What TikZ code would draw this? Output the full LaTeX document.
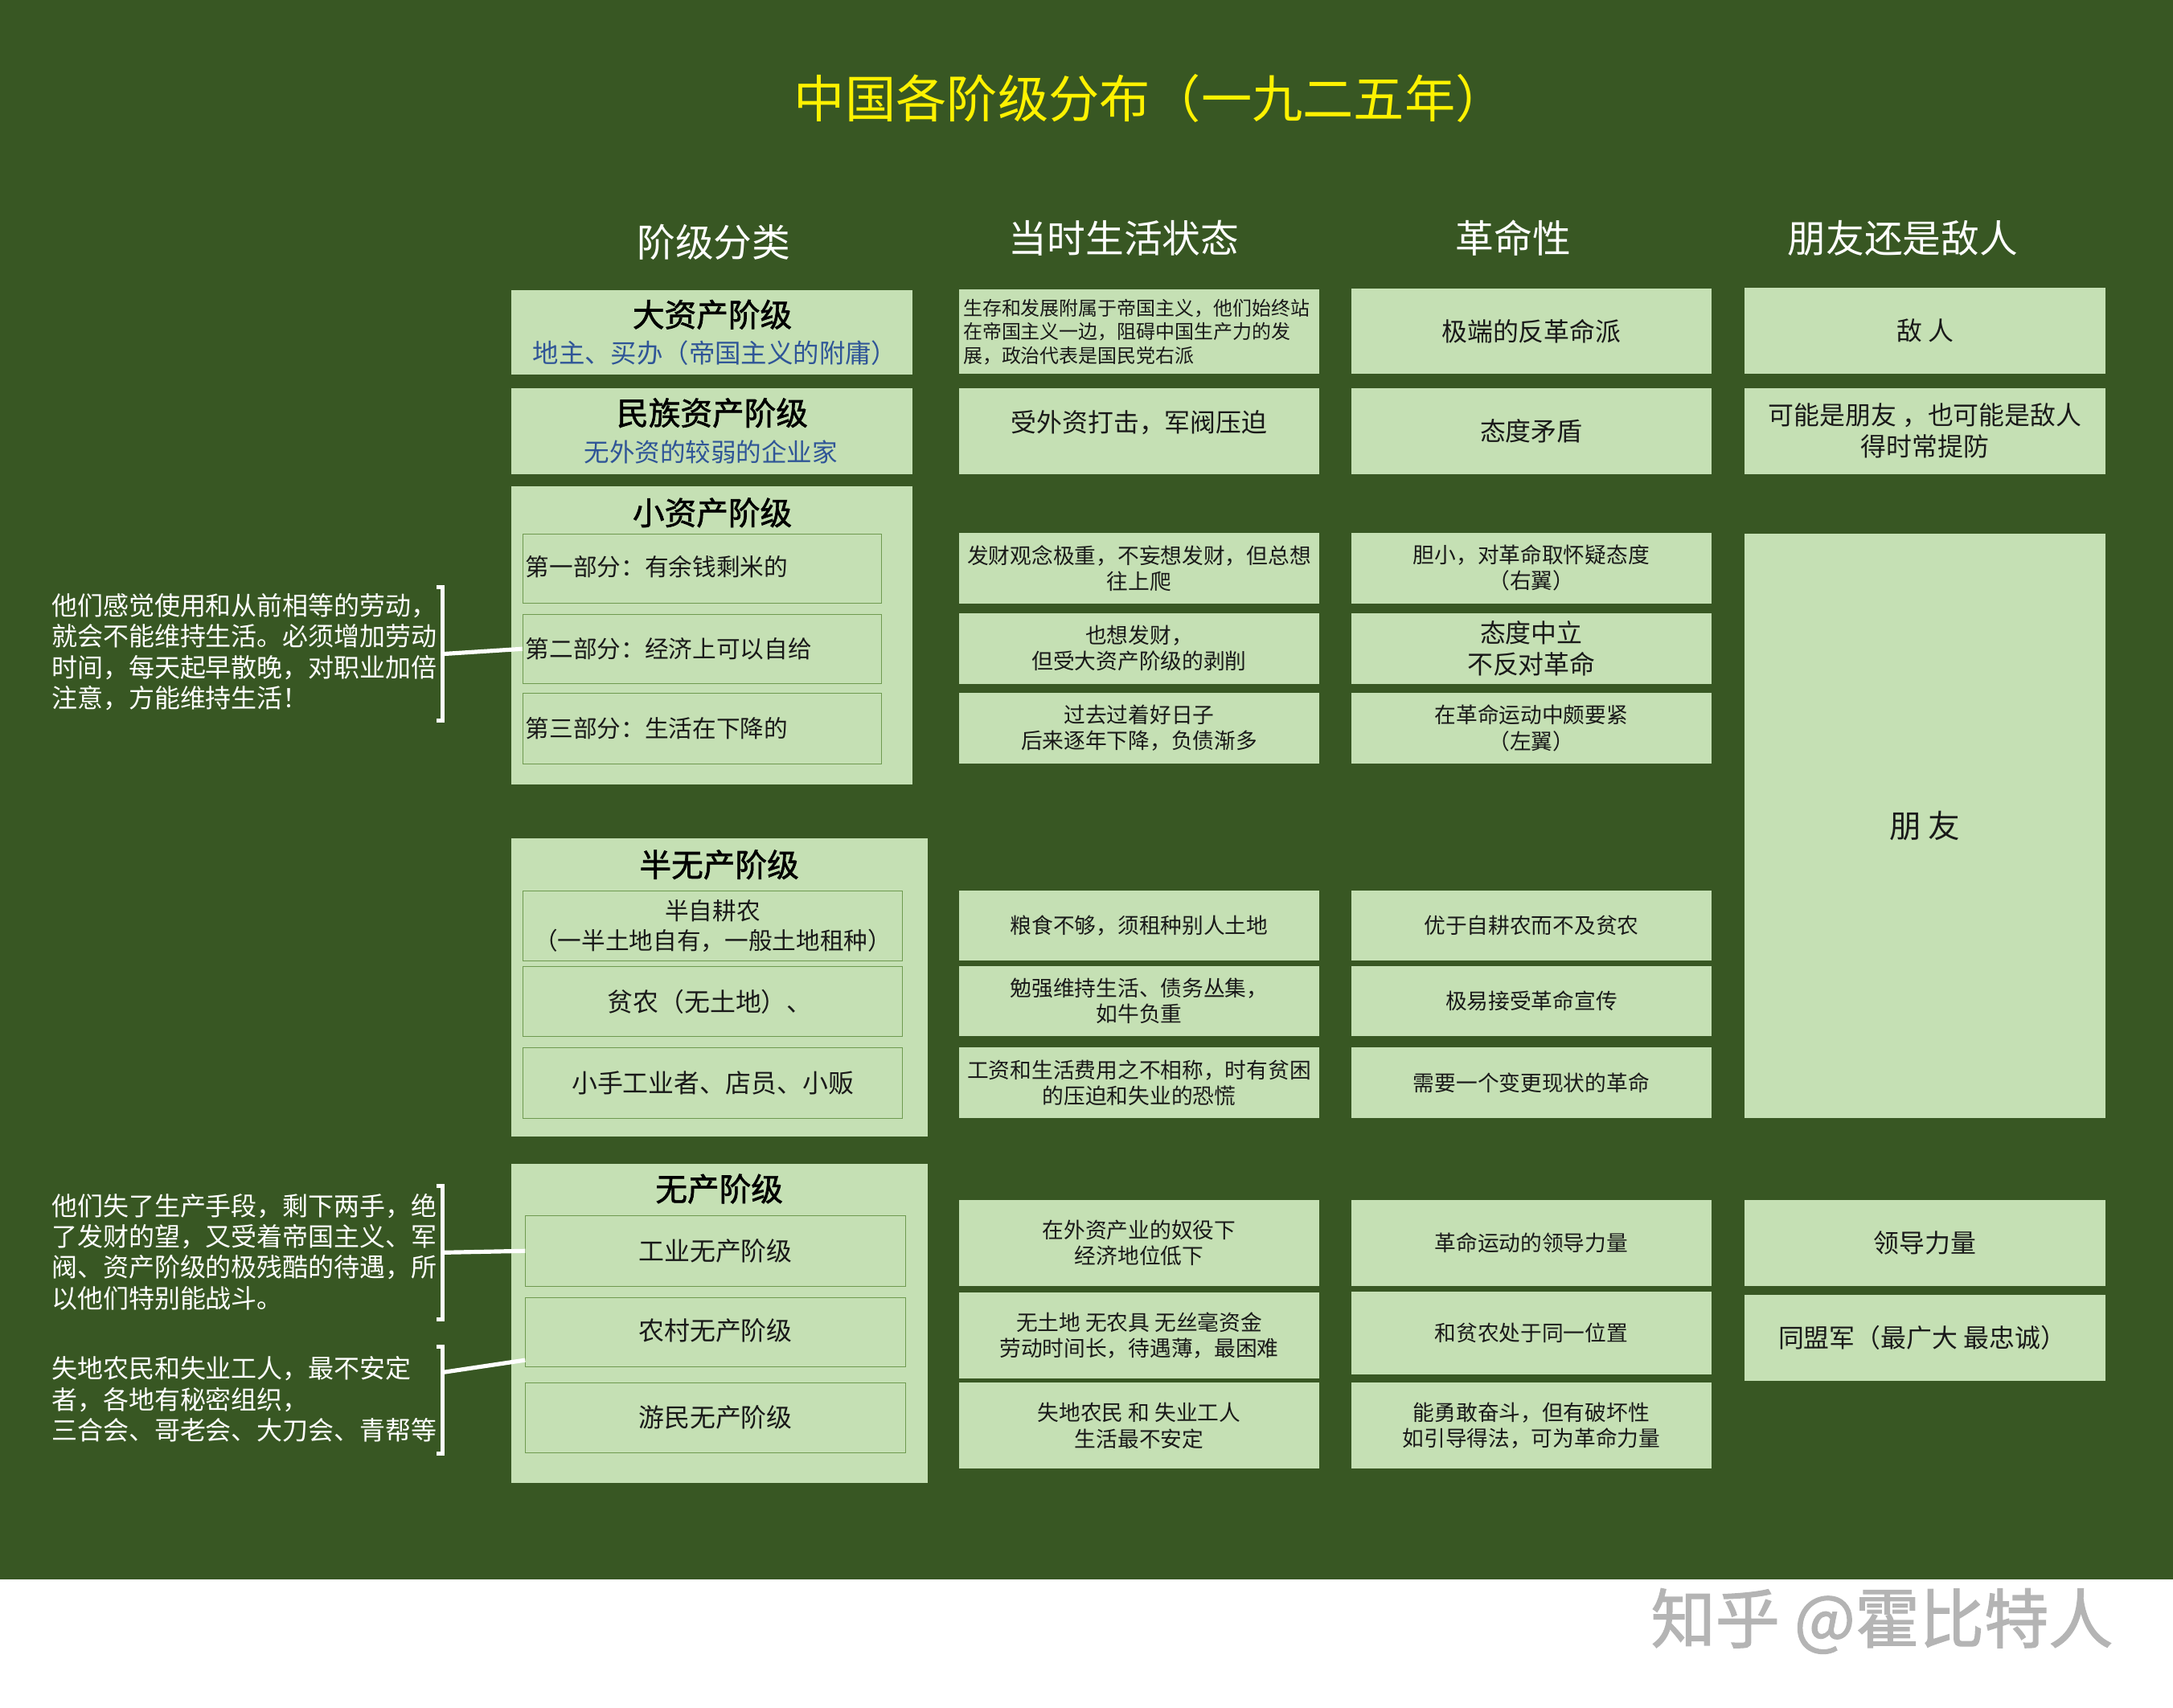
\documentclass[tikz,border=0pt]{standalone}
\usepackage{fontspec}
\setmainfont{Noto Sans CJK SC}
\newfontfamily\headfont[FakeBold=1.6]{Noto Sans CJK SC}
\usepackage{xcolor}
\usetikzlibrary{positioning}
\definecolor{boardgreen}{HTML}{385723}
\definecolor{cellgreen}{HTML}{C5E0B4}
\definecolor{subline}{HTML}{6F9A50}
\definecolor{subblue}{HTML}{2F5597}
\definecolor{markgray}{HTML}{B4B4B4}
\newcommand{\fs}[2]{\fontsize{#1}{#2}\selectfont}

\begin{document}
\begin{tikzpicture}[%
    x=1pt,y=-1pt,node distance=4pt,
    cell/.style={%
      fill=cellgreen,minimum width=260pt,inner sep=0pt,align=center,
      text=black!90,font=\fs{15.5}{18.7}},
    cellbig/.style={cell,font=\fs{18.5}{22.5}},
    hsmall/.style={minimum height=51pt},
    htall/.style={minimum height=62pt},
    group/.style={fill=cellgreen,inner sep=0pt,anchor=north west},
    grouphead/.style={inner sep=0pt,font=\fs{23}{27}\headfont,text=black},
    groupsub/.style={inner sep=0pt,font=\fs{18.3}{22},text=subblue},
    part/.style={%
      draw=subline,line width=0.6pt,inner sep=0pt,align=center,
      anchor=north west,font=\fs{18.5}{21.5},text=black!90},
    partleft/.style={part,minimum width=259pt,text width=255pt,align=left,font=\fs{17.2}{21}},
    colhead/.style={inner sep=0pt,text=white,font=\fs{27.7}{32}},
    note/.style={inner sep=0pt,anchor=west,align=left,text=white,font=\fs{18.55}{22.3}},
    brk/.style={inner sep=0pt,minimum width=4pt},
    wline/.style={draw=white,line width=3pt}
  ]
    \useasboundingbox (0,0) rectangle (1568,1232.7);
    \fill[boardgreen] (0,0) rectangle (1568,1140);

    \node[inner sep=0pt,text=yellow,font=\fs{36.7}{42}] (title) at (830,71) {中国各阶级分布（一九二五年）};
    \node[colhead] (headA) at (515,175) {阶级分类};
    \node[colhead] (headB) at (811,172) {当时生活状态};
    \node[colhead] (headC) at (1092,172) {革命性};
    \node[colhead] (headD) at (1373,172) {朋友还是敌人};

    % class column
    \node[group,minimum width=289pt,minimum height=61pt] (big) at (369,209) {};
    \node[grouphead] (bigT) at (514,227) {大资产阶级};
    \node[groupsub,font=\fs{18.8}{22}] (bigS) at (516,255) {地主、买办（帝国主义的附庸）};
    \node[group,minimum width=289pt,minimum height=62pt] (nat) at (369,280) {};
    \node[grouphead] (natT) at (514,298) {民族资产阶级};
    \node[groupsub] (natS) at (513,326) {无外资的较弱的企业家};

    \node[group,minimum width=289pt,minimum height=215pt] (petty) at (369,351) {};
    \node[grouphead] (pettyT) at (514,370) {小资产阶级};
    \node[partleft,minimum height=50pt] (pettyA) at (377,385) {\raisebox{4pt}{第一部分：有余钱剩米的}};
    \node[partleft,minimum height=50pt] (pettyB) at (377,443) {\raisebox{2pt}{第二部分：经济上可以自给}};
    \node[partleft,minimum height=51pt] (pettyC) at (377,500) {\raisebox{2pt}{第三部分：生活在下降的}};

    \node[group,minimum width=300pt,minimum height=215pt] (semi) at (369,605) {};
    \node[grouphead] (semiT) at (519,624) {半无产阶级};
    \node[part,minimum width=274pt,minimum height=50pt,font=\fs{17.2}{21}] (semiA) at (377,643) {半自耕农\\（一半土地自有，一般土地租种）};
    \node[part,minimum width=274pt,minimum height=51pt] (semiB) at (377,697) {\hspace{-4pt}贫农（无土地）、};
    \node[part,minimum width=274pt,minimum height=51pt] (semiC) at (377,756) {小手工业者、店员、小贩};

    \node[group,minimum width=300pt,minimum height=230pt] (prol) at (369,840) {};
    \node[grouphead] (prolT) at (519,858) {无产阶级};
    \node[part,minimum width=274pt,minimum height=51pt] (prolA) at (379,877) {\raisebox{2pt}{工业无产阶级}};
    \node[part,minimum width=274pt,minimum height=50pt] (prolB) at (379,936) {\raisebox{4pt}{农村无产阶级}};
    \node[part,minimum width=274pt,minimum height=50pt] (prolC) at (379,998) {\raisebox{2pt}{游民无产阶级}};

    % living conditions
    \node[cell,minimum height=61pt,text width=254pt,align=left,font=\fs{13.9}{17}] (liveA) at (822,239.5) {生存和发展附属于帝国主义，他们始终站\\在帝国主义一边，阻碍中国生产力的发\\展，政治代表是国民党右派};
    \node[cellbig,htall] (liveB) at (822,311) {\raisebox{14pt}{受外资打击，军阀压迫}};
    \node[cell,hsmall] (liveC) at (822,410) {发财观念极重，不妄想发财，但总想\\往上爬};
    \node[cell,hsmall] (liveD) at (822,468) {也想发财，\\但受大资产阶级的剥削};
    \node[cell,hsmall] (liveE) at (822,525.5) {过去过着好日子\\后来逐年下降，负债渐多};
    \node[cell,hsmall] (liveF) at (822,668) {粮食不够，须租种别人土地};
    \node[cell,hsmall] (liveG) at (822,722.5) {勉强维持生活、债务丛集，\\如牛负重};
    \node[cell,hsmall] (liveH) at (822,781.5) {工资和生活费用之不相称，时有贫困\\的压迫和失业的恐慌};
    \node[cell,htall] (liveI) at (822,897) {在外资产业的奴役下\\经济地位低下};
    \node[cell,htall] (liveJ) at (822,964) {无土地 无农具 无丝毫资金\\劳动时间长，待遇薄，最困难};
    \node[cell,htall] (liveK) at (822,1029) {失地农民 和 失业工人\\生活最不安定};

    % revolutionary character
    \node[cellbig,htall] (revA) at (1105,239) {极端的反革命派};
    \node[cellbig,htall] (revB) at (1105,311) {态度矛盾};
    \node[cell,hsmall] (revC) at (1105,410) {胆小，对革命取怀疑态度\\（右翼）};
    \node[cellbig,hsmall] (revD) at (1105,468) {态度中立\\不反对革命};
    \node[cell,hsmall] (revE) at (1105,525.5) {在革命运动中颇要紧\\（左翼）};
    \node[cell,hsmall] (revF) at (1105,668) {优于自耕农而不及贫农};
    \node[cell,hsmall] (revG) at (1105,722.5) {极易接受革命宣传};
    \node[cell,hsmall] (revH) at (1105,781.5) {需要一个变更现状的革命};
    \node[cell,htall] (revI) at (1105,897) {革命运动的领导力量};
    \node[cell,minimum height=60pt] (revJ) at (1105,962) {和贫农处于同一位置};
    \node[cell,htall] (revK) at (1105,1029) {能勇敢奋斗，但有破坏性\\如引导得法，可为革命力量};

    % friend or enemy
    \node[cellbig,htall] (sideA) at (1389,238.5) {敌 人};
    \node[cellbig,htall] (sideB) at (1389,311) {可能是朋友 ，也可能是敌人\\得时常提防};
    \node[cell,minimum height=422pt,font=\fs{23}{27}] (sideC) at (1389,596) {朋 友};
    \node[cellbig,htall] (sideD) at (1389,897) {领导力量};
    \node[cellbig,htall] (sideE) at (1389,965.5) {\hspace{-4pt}同盟军（最广大 最忠诚）};

    % side notes
    \node[note] (noteA) at (37,470.5) {他们感觉使用和从前相等的劳动，\\就会不能维持生活。必须增加劳动\\时间，每天起早散晚，对职业加倍\\注意，方能维持生活！};
    \node[note] (noteB) at (37,903.5) {他们失了生产手段，剩下两手，绝\\了发财的望，又受着帝国主义、军\\阀、资产阶级的极残酷的待遇，所\\以他们特别能战斗。};
    \node[note] (noteC) at (37,1010) {失地农民和失业工人，最不安定\\者，各地有秘密组织，\\三合会、哥老会、大刀会、青帮等};

    \node[brk,minimum height=96pt] (brkA) at (317,472) {};
    \node[brk,minimum height=96pt] (brkB) at (317,904) {};
    \node[brk,minimum height=77pt] (brkC) at (317,1010.5) {};
    \foreach \b in {brkA,brkB,brkC}
      \draw[wline] (\b.north west) -- (\b.north east) -- (\b.south east) -- (\b.south west);
    \draw[wline] (brkA.east) -- (pettyB.west);
    \draw[wline] (brkB.east) -- (prolA.west);
    \draw[wline] ([yshift=20pt]brkC.east) -- ([yshift=5pt]prolB.south west);

    \node[inner sep=0pt,text=markgray,font=\fs{46.5}{52}\headfont] (mark) at (1358,1170) {知乎 @霍比特人};
  \end{tikzpicture}
\end{document}
